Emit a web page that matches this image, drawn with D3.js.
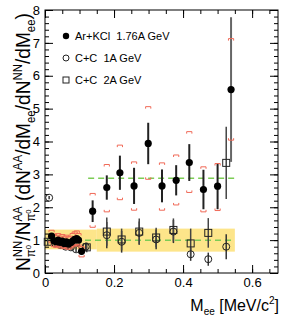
<!DOCTYPE html>
<html>
<head>
<meta charset="utf-8">
<script src="https://cdn.jsdelivr.net/npm/d3@7"></script>
<style>
  html, body { margin: 0; padding: 0; background: #fff; }
  svg { display: block; font-family: "Liberation Sans", Arial, sans-serif; }
</style>
</head>
<body>
<div id="chart"></div>
<script>
// Ar+KCl 1.76A GeV (filled circles): M_ee, ratio, stat error, systematic brackets
const arMee = [0.019, 0.026, 0.032, 0.038, 0.044, 0.050, 0.056, 0.062, 0.068, 0.074, 0.080, 0.086, 0.092, 0.097, 0.106,
  0.138, 0.179, 0.217, 0.258, 0.299, 0.339, 0.380, 0.418, 0.459, 0.500, 0.539];
const arRatio = [1.12, 0.98, 0.95, 1.00, 0.93, 0.97, 0.90, 0.95, 0.88, 0.92, 0.97, 1.02, 1.05, 1.00, 0.66,
  1.88, 2.60, 3.05, 2.65, 3.94, 2.65, 2.82, 3.36, 2.54, 2.64, 5.58];
const arStat = [0.08, 0.07, 0.07, 0.07, 0.07, 0.07, 0.07, 0.07, 0.07, 0.07, 0.08, 0.08, 0.08, 0.08, 0.10,
  0.33, 0.37, 0.52, 0.55, 0.63, 0.50, 0.46, 0.56, 0.60, 0.70, 2.20];
const arSysHi = [1.30, 1.18, 1.15, 1.20, 1.12, 1.17, 1.10, 1.15, 1.10, 1.12, 1.20, 1.25, 1.28, 1.20, 0.80,
  2.42, 3.30, 3.89, 3.38, 5.06, 3.35, 3.59, 4.30, 3.23, 3.33, 7.13];
const arSysLo = [0.92, 0.80, 0.78, 0.82, 0.76, 0.80, 0.74, 0.78, 0.72, 0.76, 0.80, 0.84, 0.86, 0.82, 0.49,
  1.39, 1.86, 2.23, 1.91, 2.85, 1.91, 2.07, 2.45, 1.86, 1.90, 4.04];

// C+C 1A GeV (open circles)
const cc1Mee = [0.012, 0.030, 0.045, 0.060, 0.075, 0.090, 0.118, 0.179, 0.222, 0.273, 0.322, 0.372, 0.422, 0.473, 0.525];
const cc1Ratio = [2.29, 0.90, 0.85, 0.80, 0.78, 0.72, 0.80, 1.15, 0.95, 1.22, 1.02, 1.26, 0.57, 0.42, 0.80];
const cc1Err = [0.05, 0.08, 0.08, 0.08, 0.08, 0.08, 0.12, 0.40, 0.33, 0.35, 0.30, 0.35, 0.20, 0.20, 0.38];

// C+C 2A GeV (open squares)
const cc2Mee = [0.008, 0.040, 0.065, 0.090, 0.121, 0.179, 0.222, 0.273, 0.322, 0.372, 0.422, 0.473, 0.525];
const cc2Ratio = [0.95, 0.92, 0.88, 0.95, 0.78, 1.26, 1.02, 1.26, 1.08, 1.31, 0.90, 1.22, 3.35];
const cc2Err = [0.10, 0.08, 0.08, 0.08, 0.15, 0.43, 0.33, 0.40, 0.30, 0.35, 0.45, 0.45, 1.10];

// yellow bands and green dashed levels
const bandFrom = [0.0, 0.15], bandTo = [0.15, 0.55];
const bandLow = [0.72, 0.65], bandHigh = [1.32, 1.35];
const levelFrom = [0.0, 0.125], levelTo = [0.55, 0.55], levelValue = [1.0, 2.88];

const xTicks = [0, 0.2, 0.4, 0.6];
const yTicks = [0, 1, 2, 3, 4, 5, 6, 7, 8];
const legendLabels = ["Ar+KCl  1.76A GeV", "C+C  1A GeV", "C+C  2A GeV"];

const width = 286, height = 316;
const margin = { top: 10, right: 8, bottom: 43, left: 45 };

const svg = d3.select("#chart").append("svg")
  .attr("width", width).attr("height", height);

const x = d3.scaleLinear().domain([0, 0.675]).range([margin.left, width - margin.right]);
const y = d3.scaleLinear().domain([0, 8]).range([height - margin.bottom, margin.top]);

// bands
svg.append("g").selectAll("rect").data(bandFrom).join("rect")
  .attr("x", (d, i) => x(d))
  .attr("width", (d, i) => x(bandTo[i]) - x(d))
  .attr("y", (d, i) => y(bandHigh[i]))
  .attr("height", (d, i) => y(bandLow[i]) - y(bandHigh[i]))
  .attr("fill", "#fde58a");

// green dashed lines
svg.append("g").selectAll("line").data(levelValue).join("line")
  .attr("x1", (d, i) => x(levelFrom[i])).attr("x2", (d, i) => x(levelTo[i]))
  .attr("y1", d => y(d)).attr("y2", d => y(d))
  .attr("stroke", "#7ccc55").attr("stroke-width", 1.5)
  .attr("stroke-dasharray", "6,4");

// axes, ticks pointing inwards on all sides
const minorX = d3.range(0, 0.676, 0.05);
const minorY = d3.range(0, 8.01, 0.2);
const xb = height - margin.bottom, yl = margin.left;

function styleAxis(g) {
  g.select(".domain").remove();
  g.selectAll("line").attr("stroke", "#000");
  g.selectAll("text").attr("font-size", 13).attr("fill", "#000")
    .attr("font-family", "'Liberation Sans', Arial, sans-serif");
}

svg.append("g").attr("transform", `translate(0,${xb})`)
  .call(d3.axisBottom(x).tickValues(minorX).tickSize(-4).tickFormat("")).call(styleAxis);
svg.append("g").attr("transform", `translate(0,${xb})`)
  .call(d3.axisBottom(x).tickValues(xTicks).tickSize(-8).tickPadding(5).tickFormat(d3.format("~g"))).call(styleAxis);
svg.append("g").attr("transform", `translate(0,${margin.top})`)
  .call(d3.axisTop(x).tickValues(minorX).tickSize(-4).tickFormat("")).call(styleAxis);
svg.append("g").attr("transform", `translate(0,${margin.top})`)
  .call(d3.axisTop(x).tickValues(xTicks).tickSize(-8).tickFormat("")).call(styleAxis);

svg.append("g").attr("transform", `translate(${yl},0)`)
  .call(d3.axisLeft(y).tickValues(minorY).tickSize(-4).tickFormat("")).call(styleAxis);
svg.append("g").attr("transform", `translate(${yl},0)`)
  .call(d3.axisLeft(y).tickValues(yTicks).tickSize(-8).tickPadding(5)).call(styleAxis);
svg.append("g").attr("transform", `translate(${width - margin.right},0)`)
  .call(d3.axisRight(y).tickValues(minorY).tickSize(-4).tickFormat("")).call(styleAxis);
svg.append("g").attr("transform", `translate(${width - margin.right},0)`)
  .call(d3.axisRight(y).tickValues(yTicks).tickSize(-8).tickFormat("")).call(styleAxis);

svg.append("rect")
  .attr("x", x(0)).attr("y", y(8))
  .attr("width", x(0.675) - x(0)).attr("height", y(0) - y(8))
  .attr("fill", "none").attr("stroke", "#000").attr("stroke-width", 1);

// C+C error bars and markers
const cc = svg.append("g");
cc.selectAll("line.e1").data(cc1Mee).join("line").attr("class", "e1")
  .attr("x1", d => x(d)).attr("x2", d => x(d))
  .attr("y1", (d, i) => y(cc1Ratio[i] + cc1Err[i])).attr("y2", (d, i) => y(cc1Ratio[i] - cc1Err[i]))
  .attr("stroke", "#333").attr("stroke-width", 1.5);
cc.selectAll("line.e2").data(cc2Mee).join("line").attr("class", "e2")
  .attr("x1", d => x(d)).attr("x2", d => x(d))
  .attr("y1", (d, i) => y(cc2Ratio[i] + cc2Err[i])).attr("y2", (d, i) => y(cc2Ratio[i] - cc2Err[i]))
  .attr("stroke", "#444").attr("stroke-width", 1.5);
cc.selectAll("circle").data(cc1Mee).join("circle")
  .attr("cx", d => x(d)).attr("cy", (d, i) => y(cc1Ratio[i])).attr("r", 3.5)
  .attr("fill", "none").attr("stroke", "#222").attr("stroke-width", 1);
cc.selectAll("rect").data(cc2Mee).join("rect")
  .attr("x", d => x(d) - 3.5).attr("y", (d, i) => y(cc2Ratio[i]) - 3.5)
  .attr("width", 7).attr("height", 7)
  .attr("fill", "none").attr("stroke", "#222").attr("stroke-width", 1);

// Ar+KCl: stat bars, systematic brackets, markers
const ar = svg.append("g");
ar.selectAll("line").data(arMee).join("line")
  .attr("x1", d => x(d)).attr("x2", d => x(d))
  .attr("y1", (d, i) => y(arRatio[i] + arStat[i])).attr("y2", (d, i) => y(arRatio[i] - arStat[i]))
  .attr("stroke", (d, i) => arStat[i] > 1 ? "#666" : "#222").attr("stroke-width", 2);

const bw = 2.6, bh = 2;
ar.selectAll("path.hi").data(arMee).join("path").attr("class", "hi")
  .attr("d", (d, i) => {
    const px = x(d), py = y(arSysHi[i]);
    return `M${px - bw},${py + bh}V${py}H${px + bw}V${py + bh}`;
  })
  .attr("fill", "none").attr("stroke", "#f06a58").attr("stroke-width", 1);
ar.selectAll("path.lo").data(arMee).join("path").attr("class", "lo")
  .attr("d", (d, i) => {
    const px = x(d), py = y(arSysLo[i]);
    return `M${px - bw},${py - bh}V${py}H${px + bw}V${py - bh}`;
  })
  .attr("fill", "none").attr("stroke", "#f06a58").attr("stroke-width", 1);

ar.selectAll("circle").data(arMee).join("circle")
  .attr("cx", d => x(d)).attr("cy", (d, i) => y(arRatio[i])).attr("r", 3.6)
  .attr("fill", "#000");

// legend
const leg = svg.append("g").attr("font-size", 11);
const legY = [36, 58, 80];
leg.append("circle").attr("cx", 66).attr("cy", legY[0]).attr("r", 3.2).attr("fill", "#000");
leg.append("circle").attr("cx", 66).attr("cy", legY[1]).attr("r", 3).attr("fill", "none").attr("stroke", "#222");
leg.append("rect").attr("x", 63).attr("y", legY[2] - 3).attr("width", 6).attr("height", 6)
  .attr("fill", "none").attr("stroke", "#222");
leg.selectAll("text").data(legendLabels).join("text")
  .attr("x", 75).attr("y", (d, i) => legY[i] + 4)
  .attr("xml:space", "preserve")
  .text(d => d);

// rich text with sub/superscripts, built piece by piece
function richText(g, parts) {
  let maxEnd = 0, anchor = 0, prevEnd = 0;
  parts.forEach(p => {
    let x0;
    if (p.back) x0 = anchor;
    else if (p.follow) x0 = prevEnd;
    else { x0 = maxEnd; anchor = x0; }
    const t = g.append("text").attr("x", x0).attr("y", p.dy || 0)
      .attr("font-size", p.fs).attr("xml:space", "preserve").text(p.t);
    prevEnd = x0 + t.node().getComputedTextLength();
    maxEnd = Math.max(maxEnd, prevEnd);
  });
  return maxEnd;
}

const F = 20, S = 12, SS = 8;
const yParts = [
  { t: "N", fs: F }, { t: "NN", fs: S, dy: -8 }, { t: "\u03c0", fs: S, dy: 5, back: true }, { t: "0", fs: SS, dy: 1, follow: true },
  { t: "/N", fs: F }, { t: "AA", fs: S, dy: -8 }, { t: "\u03c0", fs: S, dy: 5, back: true }, { t: "0", fs: SS, dy: 1, follow: true },
  { t: " (dN", fs: F }, { t: "AA", fs: S, dy: -8 },
  { t: "/dM", fs: F }, { t: "ee", fs: S, dy: 5 },
  { t: "/dN", fs: F }, { t: "NN", fs: S, dy: -8 },
  { t: "/dM", fs: F }, { t: "ee", fs: S, dy: 5 },
  { t: ")", fs: F }
];
const yLab = svg.append("g").attr("transform", "translate(30,142) rotate(-90)");
const yInner = yLab.append("g");
const yLen = richText(yInner, yParts);
const ys = 258 / yLen;
yInner.attr("transform", `scale(${ys},1) translate(${-yLen / 2},0)`);

const xParts = [
  { t: "M", fs: 16 }, { t: "ee", fs: 10, dy: 4 },
  { t: " [MeV/c", fs: 16 }, { t: "2", fs: 10, dy: -7 }, { t: "]", fs: 16 }
];
const xLab = svg.append("g");
const xLen = richText(xLab, xParts);
xLab.attr("transform", `translate(${279 - xLen},311)`);
</script>
</body>
</html>
